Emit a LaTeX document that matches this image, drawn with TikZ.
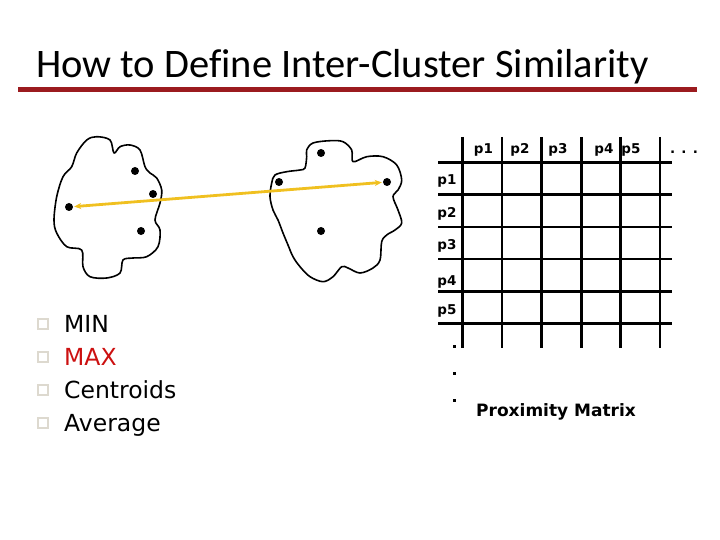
\documentclass[tikz,border=0pt]{standalone}
\usepackage{fontspec}
\setmainfont{Carlito}[Ligatures=NoCommon]
\newfontfamily\listfont{DejaVu Sans}
\newfontfamily\tabfont{DejaVu Sans}
\usetikzlibrary{arrows.meta}
\definecolor{titlered}{HTML}{9B1B1F}
\definecolor{maxred}{HTML}{CC1010}
\definecolor{arrowgold}{HTML}{F0C020}
\definecolor{bulletgray}{HTML}{DDD9CF}
\tikzset{
  blob/.style={draw=black, line width=1.6pt, line join=round},
  pt/.style={circle, fill=black, inner sep=0pt, minimum size=8pt},
  grid/.style={line width=2.3pt},
  lab/.style={font=\tabfont\bfseries\fontsize{13.5}{14}\selectfont, inner sep=0pt, anchor=base},
  item/.style={font=\listfont\fontsize{23.5}{24}\selectfont, inner sep=0pt, anchor=base west},
  bul/.style={draw=bulletgray, line width=1.5pt, minimum size=10pt, inner sep=0pt},
  vdot/.style={fill=black, inner sep=0pt, minimum size=3pt}
}
\begin{document}
\begin{tikzpicture}[x=1pt,y=-1pt]
\useasboundingbox (0,0) rectangle (720,540);
% title
\node[font=\fontsize{40.5}{42}\selectfont, inner sep=0pt, anchor=base west] (title) at (36,78) {How to Define Inter-Cluster Similarity};
\draw[titlered, line width=5pt] (18,90) -- (697,90);
% clusters
\draw[blob] plot[smooth cycle, tension=0.55] coordinates {
 (86.7,140) (96.7,136.7) (110,140) (114,153) (120,146.7) (130,145) (140,150) (145,166.7)
 (150,173) (156.7,178) (161.7,190) (160,203) (155,220) (160,230) (158,246.7) (146.7,256.7)
 (133,258) (123,260) (120,273) (106.7,278) (90,276.7) (83,266.7) (81.7,250) (66.7,246.7)
 (56.7,233) (54,220) (56.7,196.7) (63,176.7) (71.7,166.7) (76.7,153)};
\draw[blob] plot[smooth cycle, tension=0.55] coordinates {
 (306.7,150) (313,143) (330,140.7) (343,141.7) (351.7,150) (353,161.7) (366.7,156.7) (383,156.7)
 (396.7,165) (401.7,180) (398,190) (393,196.7) (398,210) (401.7,223) (395,230) (386.7,235)
 (381.7,241.7) (380,260) (373,268) (360,273) (348,268) (341.7,266.7) (333,276.7) (323,281.7)
 (310,276.7) (300,266.7) (293,256.7) (288,245) (283,233) (278,220) (273,210) (270,196.7)
 (271.7,183) (275,175) (286.7,171.7) (300,170) (305,168) (306.7,156.7)};
\node[pt] (a1) at (135,171) {};
\node[pt] (a2) at (153,194) {};
\node[pt] (a3) at (69,207) {};
\node[pt] (a4) at (141,231) {};
\node[pt] (b1) at (321,153) {};
\node[pt] (b2) at (279,182) {};
\node[pt] (b3) at (387,182) {};
\node[pt] (b4) at (321,231) {};
\draw[arrowgold, line width=2.8pt, {Stealth[length=7pt,width=6pt]}-{Stealth[length=7pt,width=6pt]}, shorten <=1pt, shorten >=1pt] (a3) -- (b3);
% list
\foreach \y/\t/\c [count=\i] in {324/MIN/black, 357/MAX/maxred, 390/Centroids/black, 423/Average/black} {
  \node[bul] (bul\i) at (43,\y) {};
  \node[item, text=\c] (it\i) at (64,\y+8.5) {\t};
}
% matrix grid
\foreach \x [count=\i] in {462.5,502,541.5,581.5,620.5,660} {
  \coordinate (vt\i) at (\x,137);
  \coordinate (vb\i) at (\x,348);
  \draw[grid] (vt\i) -- (vb\i);
}
\foreach \y [count=\i] in {162.5,194.5,227,259,291.5,323.5} {
  \coordinate (hl\i) at (438,\y);
  \coordinate (hr\i) at (672,\y);
  \draw[grid] (hl\i) -- (hr\i);
}
% column labels
\foreach \x/\t [count=\i] in {483.5/p1, 520/p2, 558/p3, 604/p4, 631/p5} {
  \node[lab] (c\i) at (\x,154) {\t};
}
\node[lab] (cdots) at (684,154) {. . .};
% row labels
\foreach \y/\t [count=\i] in {184.5/p1, 217.5/p2, 249/p3, 285/p4, 314/p5} {
  \node[lab] (r\i) at (447,\y) {\t};
}
\node[vdot] (d1) at (454,346) {};
\node[vdot] (d2) at (454,373) {};
\node[vdot] (d3) at (454,400) {};
\node[font=\tabfont\bfseries\fontsize{17}{18}\selectfont, inner sep=0pt, anchor=base west] (prox) at (476,416) {Proximity Matrix};
\end{tikzpicture}
\end{document}
